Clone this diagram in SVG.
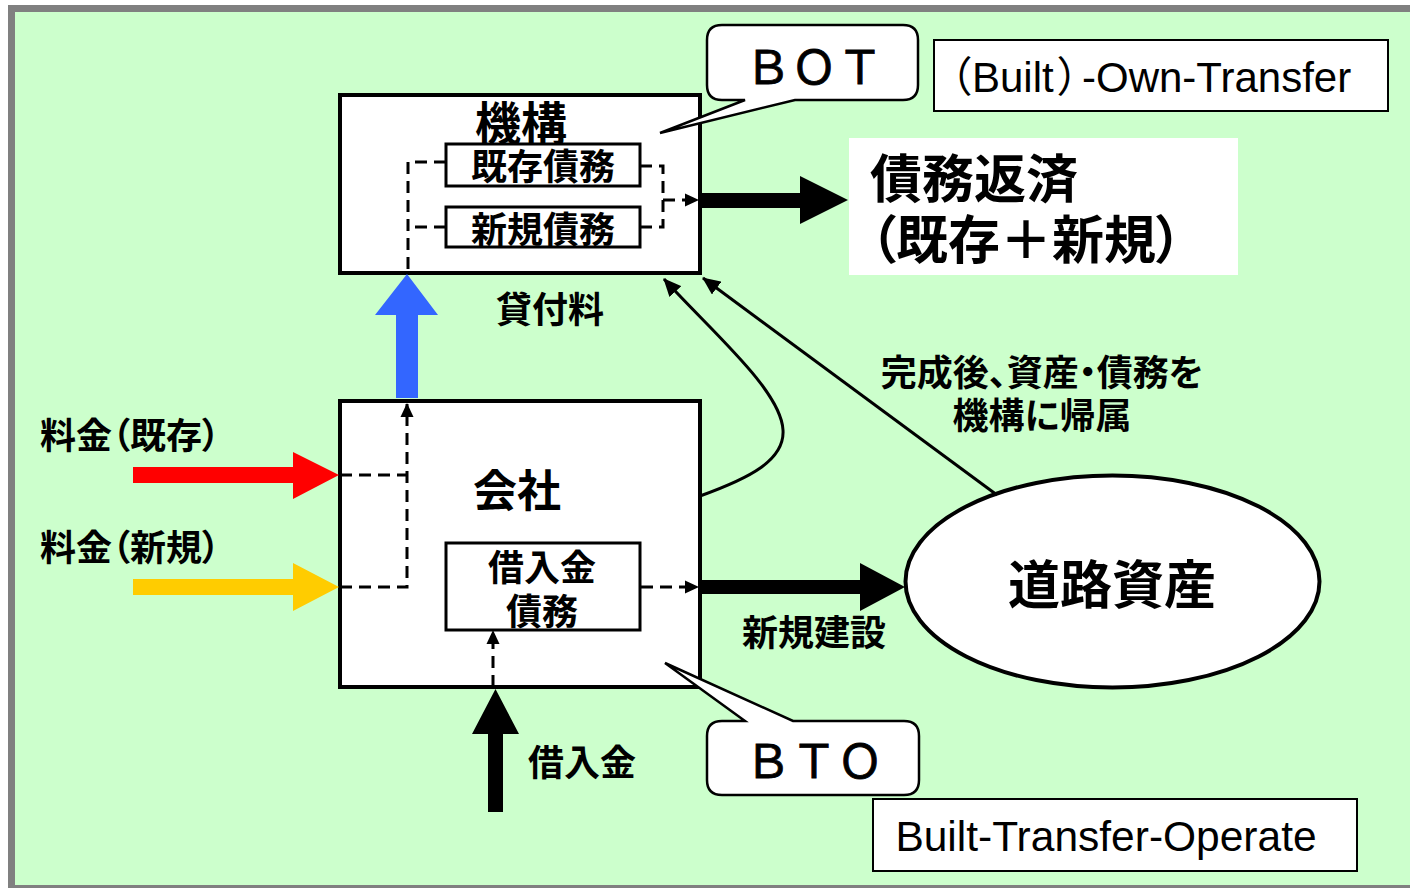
<svg xmlns="http://www.w3.org/2000/svg" width="1410" height="888" viewBox="0 0 1410 888">
<style>
.jp{font-family:"Noto Sans CJK JP","Noto Sans CJK SC",sans-serif;font-weight:bold;fill:#000;font-feature-settings:"palt"}
.en{font-family:"Liberation Sans","Noto Sans CJK JP",sans-serif;fill:#000}
.par{font-family:"Noto Sans CJK JP",sans-serif;font-feature-settings:"palt"}
.fw{font-family:"Noto Sans CJK JP",sans-serif;fill:#000}
.box{fill:#fff;stroke:#000;stroke-width:4}
.ibox{fill:#fff;stroke:#000;stroke-width:3}
.lbl{fill:#fff;stroke:#000;stroke-width:2}
.dash{fill:none;stroke:#000;stroke-width:3;stroke-dasharray:12 7}
.thin{fill:none;stroke:#000;stroke-width:3}
</style>
<defs>
<marker id="dh" markerUnits="userSpaceOnUse" viewBox="0 0 14 14" markerWidth="14" markerHeight="14" refX="13" refY="7" orient="auto">
<path d="M0,0.5 L14,7 L0,13.5 z" fill="#000"/>
</marker>
<marker id="ah" markerUnits="userSpaceOnUse" viewBox="0 0 18 16" markerWidth="18" markerHeight="16" refX="17" refY="8" orient="auto">
<path d="M0,0 L18,8 L0,16 z" fill="#000"/>
</marker>
</defs>

<rect x="0" y="0" width="1410" height="888" fill="#fff"/>
<rect x="8" y="5" width="1410" height="890" fill="#808080"/>
<rect x="15" y="12" width="1400" height="873" fill="#CCFFCC"/>

<g id="kikou">
<rect class="box" x="340" y="95" width="360" height="178"/>
<text class="jp" x="521" y="140" font-size="46" text-anchor="middle">機構</text>
</g>
<g id="kizon-saimu">
<rect class="ibox" x="446" y="144" width="194" height="42"/>
<text class="jp" x="543" y="180" font-size="36" text-anchor="middle">既存債務</text>
</g>
<g id="shinki-saimu">
<rect class="ibox" x="446" y="207" width="194" height="40"/>
<text class="jp" x="543" y="243" font-size="36" text-anchor="middle">新規債務</text>
</g>

<g id="kaisha">
<rect class="box" x="340" y="401" width="360" height="286"/>
<text class="jp" x="517" y="507" font-size="44" text-anchor="middle">会社</text>
</g>
<g id="kariire-saimu">
<rect class="ibox" x="446" y="543" width="194" height="87"/>
<text class="jp" x="542" y="581" font-size="36" text-anchor="middle">借入金</text>
<text class="jp" x="542" y="625" font-size="36" text-anchor="middle">債務</text>
</g>

<g id="saimu-hensai">
<rect x="849" y="138" width="389" height="137" fill="#fff"/>
<text class="jp" x="870" y="198" font-size="52">債務返済</text>
<text class="jp" x="870" y="259" font-size="52">（既存＋新規）</text>
</g>

<g id="douro-shisan">
<ellipse cx="1112.5" cy="581.5" rx="207" ry="106" fill="#fff" stroke="#000" stroke-width="4"/>
<text class="jp" x="1112" y="604" font-size="52" text-anchor="middle">道路資産</text>
</g>

<g id="own-transfer">
<rect class="lbl" x="934" y="40" width="454" height="71"/>
<text class="en" y="92" font-size="42"><tspan class="par" x="950">（</tspan><tspan x="972">Built</tspan><tspan class="par" x="1058">）</tspan><tspan x="1082">-Own-Transfer</tspan></text>
</g>
<g id="transfer-operate">
<rect class="lbl" x="873" y="799" width="484" height="72"/>
<text class="en" x="1106" y="851" font-size="42.5" text-anchor="middle">Built-Transfer-Operate</text>
</g>

<g id="connectors">
<polygon points="133,467 293,467 293,452 339,475 293,499 293,483 133,483" fill="#FF0000"/>
<polygon points="133,579 293,579 293,563 339,587 293,611 293,595 133,595" fill="#FFCC00"/>
<polygon points="396,398 396,315 375,315 407,274 438,315 418,315 418,398" fill="#3366FF"/>
<polygon points="488,812 488,734 472,734 495.5,689 519,734 503,734 503,812" fill="#000"/>
<polygon points="700,193 800,193 800,176 848,200 800,224 800,208 700,208" fill="#000"/>
<polygon points="700,580 860,580 860,563 905,587 860,611 860,594 700,594" fill="#000"/>

<path class="dash" d="M446,162 H408 V273"/>
<path class="dash" d="M446,227 H408"/>
<path class="dash" d="M640,166 H663 V227 H640"/>
<path class="dash" d="M663,200 H698" marker-end="url(#dh)"/>
<path class="dash" d="M340,475 H407"/>
<path class="dash" d="M340,587 H407 V404" marker-end="url(#dh)"/>
<path class="dash" d="M641,587 H698" marker-end="url(#dh)"/>
<path class="dash" d="M493,687 V631" marker-end="url(#dh)"/>

<path class="thin" d="M700,496 C750,478 785,460 783,430 C781,390 710,330 664,279" marker-end="url(#ah)"/>
<path class="thin" d="M997,495 L703,278" marker-end="url(#ah)"/>
</g>

<g id="callout-bot">
<path d="M722,25 H903 Q918,25 918,40 V85 Q918,100 903,100 H795 L660,133 L745,100 H722 Q707,100 707,85 V40 Q707,25 722,25 Z" fill="#fff" stroke="#000" stroke-width="2.5"/>
<text class="fw" x="814" y="84" font-size="46" text-anchor="middle" stroke="#000" stroke-width="0.8">ＢＯＴ</text>
</g>
<g id="callout-bto">
<path d="M722,721 H745 L665,663 L793,721 H904 Q919,721 919,736 V780 Q919,795 904,795 H722 Q707,795 707,780 V736 Q707,721 722,721 Z" fill="#fff" stroke="#000" stroke-width="2.5"/>
<text class="fw" x="814" y="778" font-size="46" text-anchor="middle" stroke="#000" stroke-width="0.8">ＢＴＯ</text>
</g>

<g id="labels">
<text class="jp" x="550" y="323" font-size="36" text-anchor="middle">貸付料</text>
<text class="jp" x="40" y="449" font-size="36">料金（既存）</text>
<text class="jp" x="40" y="561" font-size="36">料金（新規）</text>
<text class="jp" x="814" y="646" font-size="36" text-anchor="middle">新規建設</text>
<text class="jp" x="582" y="776" font-size="36" text-anchor="middle">借入金</text>
<text class="jp" x="1042" y="386" font-size="36" text-anchor="middle">完成後、資産・債務を</text>
<text class="jp" x="1042" y="429" font-size="36" text-anchor="middle">機構に帰属</text>
</g>
</svg>
